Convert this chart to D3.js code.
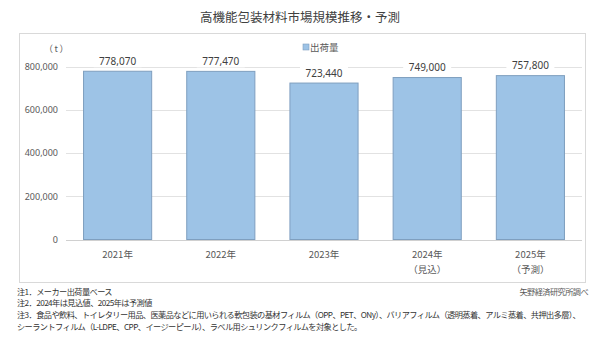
<!DOCTYPE html>
<html>
<head>
<meta charset="utf-8">
<script src="https://cdn.jsdelivr.net/npm/d3@7"></script>
<style>
  body { margin: 0; background: #fff; }
  text { font-family: "Noto Sans CJK JP", "Noto Sans", sans-serif; }
</style>
</head>
<body>
<script>
const years = ['2021年', '2022年', '2023年', '2024年', '2025年']
const subLabels = ['', '', '', '（見込）', '（予測）']
const shipments = [778070, 777470, 723440, 749000, 757800]
const yTicks = [0, 200000, 400000, 600000, 800000]
const notes = [
  '注1．メーカー出荷量ベース',
  '注2．2024年は見込値、2025年は予測値',
  '注3．食品や飲料、トイレタリー用品、医薬品などに用いられる軟包装の基材フィルム（OPP、PET、ONy）、バリアフィルム（透明蒸着、アルミ蒸着、共押出多層）、',
  'シーラントフィルム（L-LDPE、CPP、イージーピール）、ラベル用シュリンクフィルムを対象とした。'
]

const w = 600
const h = 355
const fmt = d3.format(',')

const svg = d3.select('body').append('svg').attr('width', w).attr('height', h)

// outer chart frame
svg.append('rect')
  .attr('x', 19.5).attr('y', 33.5)
  .attr('width', 566).attr('height', 249)
  .attr('fill', 'none').attr('stroke', '#d9d9d9')

svg.append('text')
  .attr('x', 300).attr('y', 22)
  .attr('text-anchor', 'middle')
  .attr('font-size', 12.5).attr('fill', '#404040')
  .text('高機能包装材料市場規模推移・予測')

const xScale = d3.scaleBand()
  .domain(years)
  .range([66, 582])
  .paddingInner(0.33)
  .paddingOuter(0.165)

const yScale = d3.scaleLinear()
  .domain([0, 800000])
  .range([239.5, 66.5])

// grid
svg.append('g')
  .selectAll('line')
  .data(yTicks)
  .enter()
  .append('line')
  .attr('x1', 66).attr('x2', 582)
  .attr('y1', (d) => Math.round(yScale(d)) + 0.5)
  .attr('y2', (d) => Math.round(yScale(d)) + 0.5)
  .attr('stroke', (d) => (d === 0 ? '#d0d0d0' : '#e2e2e2'))

const yAxis = d3.axisLeft(yScale).tickValues(yTicks).tickFormat(fmt).tickSize(0).tickPadding(8)
const gy = svg.append('g').attr('transform', 'translate(66,0)').call(yAxis)
gy.select('.domain').remove()
gy.selectAll('text').attr('font-size', 9).attr('fill', '#595959')
  .style('font-family', '"Noto Sans", "DejaVu Sans", sans-serif')

svg.append('text')
  .attr('x', 57).attr('y', 52)
  .attr('text-anchor', 'middle')
  .attr('font-size', 9).attr('fill', '#595959')
  .attr('letter-spacing', 1.5)
  .text('（t）')

// bars
svg.selectAll('rect.bar')
  .data(shipments)
  .enter()
  .append('rect')
  .attr('class', 'bar')
  .attr('x', (d, i) => xScale(years[i]) + 0.5)
  .attr('y', (d) => yScale(d))
  .attr('width', xScale.bandwidth() - 1)
  .attr('height', (d) => yScale(0) - yScale(d))
  .attr('fill', '#9dc3e6')
  .attr('stroke', '#7f9fbf')
  .attr('stroke-width', 1)

// value labels with white backing over gridlines
const lbl = svg.append('g').selectAll('g')
  .data(shipments)
  .enter()
  .append('g')
  .attr('transform', (d, i) => `translate(${xScale(years[i]) + xScale.bandwidth() / 2},${yScale(d) - 10})`)
lbl.append('rect')
  .attr('x', -24).attr('y', -6).attr('width', 48).attr('height', 12)
  .attr('fill', '#fff')
lbl.append('text')
  .attr('text-anchor', 'middle')
  .attr('dy', '0.35em')
  .attr('font-size', 10).attr('fill', '#404040')
  .style('font-family', '"Noto Sans", "DejaVu Sans", sans-serif')
  .text((d) => fmt(d))

// x labels
const xg = svg.append('g').selectAll('g')
  .data(years)
  .enter()
  .append('g')
  .attr('transform', (d) => `translate(${xScale(d) + xScale.bandwidth() / 2},0)`)
xg.append('text')
  .attr('y', 258).attr('text-anchor', 'middle')
  .attr('font-size', 9.5).attr('fill', '#595959')
  .text((d) => d)
xg.append('text')
  .attr('y', 273).attr('text-anchor', 'middle')
  .attr('font-size', 9.5).attr('fill', '#595959')
  .text((d, i) => subLabels[i])

// legend
svg.append('rect')
  .attr('x', 303).attr('y', 44).attr('width', 6).attr('height', 6)
  .attr('fill', '#9dc3e6').attr('stroke', '#7f9fbf').attr('stroke-width', 0.6)
svg.append('text')
  .attr('x', 310).attr('y', 51)
  .attr('font-size', 9.5).attr('fill', '#595959')
  .text('出荷量')

// notes: tighten letter spacing so the long line ends where the original does
const noteText = svg.append('g').selectAll('text')
  .data(notes)
  .enter()
  .append('text')
  .attr('x', 17)
  .attr('y', (d, i) => 294.5 + i * 11.7)
  .attr('font-size', 8.2).attr('fill', '#333')
  .text((d) => d)
const longest = noteText.nodes()[2]
const spacing = (563 - longest.getComputedTextLength()) / notes[2].length
noteText.attr('letter-spacing', spacing)

svg.append('text')
  .attr('x', 588).attr('y', 294.5)
  .attr('text-anchor', 'end')
  .attr('font-size', 8.2).attr('fill', '#595959')
  .attr('letter-spacing', spacing)
  .text('矢野経済研究所調べ')
</script>
</body>
</html>
